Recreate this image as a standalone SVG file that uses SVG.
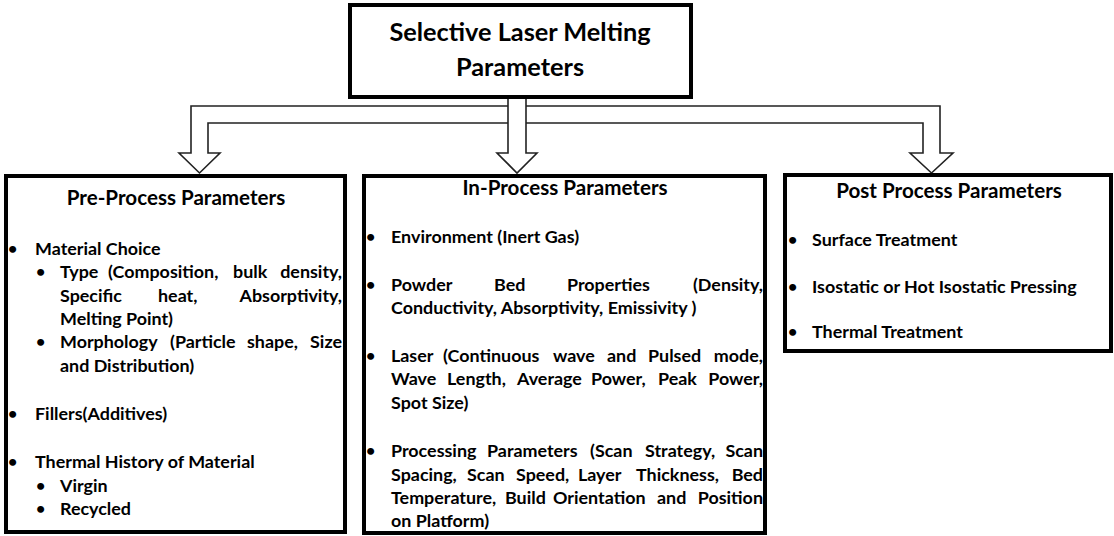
<svg xmlns="http://www.w3.org/2000/svg" width="1114" height="536" viewBox="0 0 1114 536">
  <style>
    .box { fill: #fff; stroke: #000; stroke-width: 4; }
    .title { font-family: Lato, "Liberation Sans", sans-serif; font-weight: bold; font-size: 25.3px; fill: #000; text-anchor: middle; }
    .head { font-family: Lato, "Liberation Sans", sans-serif; font-weight: bold; font-size: 20.6px; fill: #000; text-anchor: middle; }
    .t { font-family: Lato, "Liberation Sans", sans-serif; font-weight: bold; font-size: 17.9px; fill: #000; }
    .b { font-family: Lato, "Liberation Sans", sans-serif; font-weight: bold; font-size: 16px; fill: #000; }
    .e { text-anchor: end; }
    .conn { fill: #fff; stroke: #222; stroke-width: 1.6; stroke-linejoin: miter; }
  </style>

  <!-- hollow block arrows fanning out from the title -->
  <g id="connectors">
    <path class="conn" d="M191,106 H940 V153 H953 L931.5,173 L910,153 H923 V123 H208 V153 H220 L199.5,173 L179,153 H191 Z"/>
    <path class="conn" d="M508,97 V153 H497 L517,173 L537,153 H526 V97"/>
  </g>

  <g id="title">
    <rect class="box" x="350" y="5" width="341" height="92" stroke-width="5"/>
    <text class="title" x="520" y="41">Selective Laser Melting</text>
    <text class="title" x="520" y="76">Parameters</text>
  </g>

  <g id="pre-process">
    <rect class="box" x="6" y="176" width="339" height="356"/>
    <text class="head" x="176" y="205">Pre-Process Parameters</text>
    <text class="b" x="8" y="254">•</text>
    <text class="t" x="35" y="255">Material Choice</text>
    <text class="b" x="36" y="277">•</text>
    <text class="t" x="60" y="278">Type</text>
    <text class="t" x="108" y="278">(Composition,</text>
    <text class="t" x="233" y="278">bulk</text>
    <text class="t e" x="342" y="278">density,</text>
    <text class="t" x="60" y="302">Specific</text>
    <text class="t" x="158" y="302">heat,</text>
    <text class="t e" x="342" y="302">Absorptivity,</text>
    <text class="t" x="60" y="325">Melting Point)</text>
    <text class="b" x="36" y="347">•</text>
    <text class="t" x="60" y="348">Morphology</text>
    <text class="t" x="170" y="348">(Particle</text>
    <text class="t" x="247" y="348">shape,</text>
    <text class="t e" x="342" y="348">Size</text>
    <text class="t" x="60" y="372">and Distribution)</text>
    <text class="b" x="8" y="419">•</text>
    <text class="t" x="35" y="420">Fillers(Additives)</text>
    <text class="b" x="8" y="467">•</text>
    <text class="t" x="35" y="468">Thermal History of Material</text>
    <text class="b" x="36" y="491">•</text>
    <text class="t" x="60" y="492">Virgin</text>
    <text class="b" x="36" y="514">•</text>
    <text class="t" x="60" y="515">Recycled</text>
  </g>

  <g id="in-process">
    <rect class="box" x="364" y="176" width="401" height="357"/>
    <text class="head" x="565" y="195">In-Process Parameters</text>
    <text class="b" x="366" y="242">•</text>
    <text class="t" x="391" y="243">Environment (Inert Gas)</text>
    <text class="b" x="366" y="290">•</text>
    <text class="t" x="391" y="291">Powder</text>
    <text class="t" x="494" y="291">Bed</text>
    <text class="t" x="567" y="291">Properties</text>
    <text class="t e" x="763" y="291">(Density,</text>
    <text class="t" x="391" y="314">Conductivity, Absorptivity, Emissivity )</text>
    <text class="b" x="366" y="361">•</text>
    <text class="t" x="391" y="362">Laser</text>
    <text class="t" x="443" y="362">(Continuous</text>
    <text class="t" x="553" y="362">wave</text>
    <text class="t" x="607" y="362">and</text>
    <text class="t" x="648" y="362">Pulsed</text>
    <text class="t e" x="763" y="362">mode,</text>
    <text class="t" x="391" y="385">Wave</text>
    <text class="t" x="447" y="385">Length,</text>
    <text class="t" x="517" y="385">Average</text>
    <text class="t" x="591" y="385">Power,</text>
    <text class="t" x="658" y="385">Peak</text>
    <text class="t e" x="763" y="385">Power,</text>
    <text class="t" x="391" y="409">Spot Size)</text>
    <text class="b" x="366" y="456">•</text>
    <text class="t" x="391" y="457">Processing</text>
    <text class="t" x="487" y="457">Parameters</text>
    <text class="t" x="590" y="457">(Scan</text>
    <text class="t" x="645" y="457">Strategy,</text>
    <text class="t e" x="763" y="457">Scan</text>
    <text class="t" x="391" y="481">Spacing,</text>
    <text class="t" x="467" y="481">Scan</text>
    <text class="t" x="516" y="481">Speed,</text>
    <text class="t" x="578" y="481">Layer</text>
    <text class="t" x="636" y="481">Thickness,</text>
    <text class="t e" x="763" y="481">Bed</text>
    <text class="t" x="391" y="504">Temperature,</text>
    <text class="t" x="505" y="504">Build</text>
    <text class="t" x="553" y="504">Orientation</text>
    <text class="t" x="657" y="504">and</text>
    <text class="t e" x="763" y="504">Position</text>
    <text class="t" x="391" y="527">on Platform)</text>
  </g>

  <g id="post-process">
    <rect class="box" x="785" y="175" width="326" height="176"/>
    <text class="head" x="949" y="198">Post Process Parameters</text>
    <text class="b" x="788" y="245">•</text>
    <text class="t" x="812" y="246">Surface Treatment</text>
    <text class="b" x="788" y="292">•</text>
    <text class="t" x="812" y="293">Isostatic or Hot Isostatic Pressing</text>
    <text class="b" x="788" y="337">•</text>
    <text class="t" x="812" y="338">Thermal Treatment</text>
  </g>
</svg>
